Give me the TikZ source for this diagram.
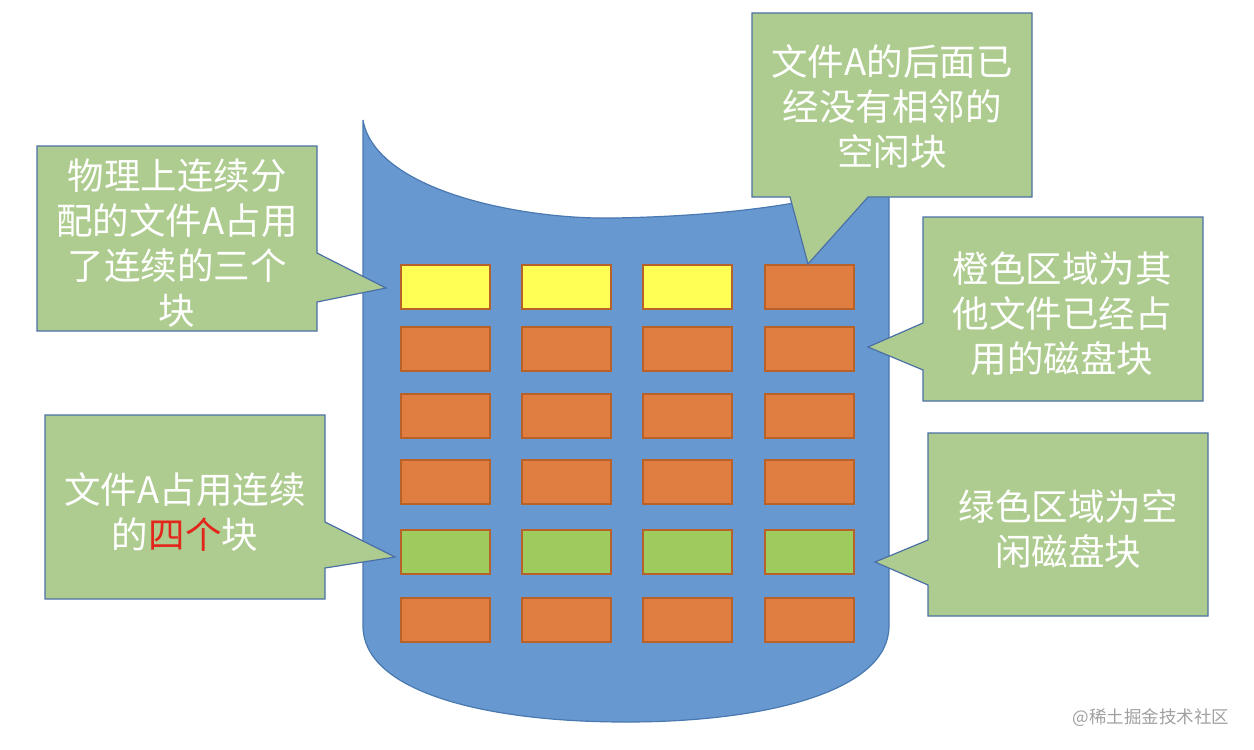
\documentclass[tikz,border=0pt]{standalone}
\usepackage{fontspec}
\newfontfamily\cjk{Noto Sans CJK SC}
\definecolor{cylfill}{HTML}{6799D0}
\definecolor{cyledge}{HTML}{4A78B0}
\definecolor{yel}{HTML}{FFFF55}
\definecolor{org}{HTML}{E07E42}
\definecolor{grn}{HTML}{9DCB5E}
\definecolor{blkedge}{HTML}{B8622A}
\definecolor{callfill}{HTML}{AECC8F}
\definecolor{calledge}{HTML}{4C70A6}
\definecolor{redtxt}{HTML}{E3261C}
\definecolor{wmark}{HTML}{A0A0A0}
\tikzset{
  blockbox/.style={draw=blkedge, line width=1.6pt, minimum width=89pt, minimum height=44pt, inner sep=0pt, anchor=north west},
  callout/.style={fill=callfill, draw=calledge, line width=1.2pt, line join=miter},
  calltext/.style={text=white, align=center, font=\cjk\fontsize{36.5}{45}\selectfont, inner sep=0pt}
}
\begin{document}
\begin{tikzpicture}[x=1pt,y=-1pt]
\useasboundingbox (0,0) rectangle (1254,750);
% disk body
\path[fill=cylfill, draw=cyledge, line width=1.2pt]
  (363,120) .. controls (375,190) and (520,220) .. (615,218)
  .. controls (720,216) and (820,205) .. (889,178)
  -- (889,626) .. controls (889,690) and (770,722) .. (626,722)
  .. controls (480,722) and (363,690) .. (363,626) -- cycle;
% blocks
\foreach \c/\x in {1/400,2/521,3/642,4/764}{
  \foreach \r/\y in {1/264,2/326,3/393,4/459,5/529,6/597}{
    \node[blockbox, fill=org] (b\r\c) at (\x,\y) {};
  }
}
\node[blockbox, fill=yel] (b11) at (400,264) {};
\node[blockbox, fill=yel] (b12) at (521,264) {};
\node[blockbox, fill=yel] (b13) at (642,264) {};
\foreach \c/\x in {1/400,2/521,3/642,4/764}{
  \node[blockbox, fill=grn] (b5\c) at (\x,529) {};
}
% callout 1 (left top)
\path[callout] (37,146) -- (317,146) -- (317,253) -- (386,288) -- (317,302) -- (317,331) -- (37,331) -- cycle;
\node[calltext] (t1) at (177,243) {物理上连续分\\配的文件A占用\\了连续的三个\\块};
% callout 2 (top right)
\path[callout] (752,13) -- (1032,13) -- (1032,197) -- (868,197) -- (808,264) -- (790,197) -- (752,197) -- cycle;
\node[calltext] (t2) at (892,107) {文件A的后面已\\经没有相邻的\\空闲块};
% callout 3 (right middle)
\path[callout] (923,217) -- (1203,217) -- (1203,401) -- (923,401) -- (923,370) -- (868,347) -- (923,323) -- cycle;
\node[calltext] (t3) at (1062,314) {橙色区域为其\\他文件已经占\\用的磁盘块};
% callout 4 (left bottom)
\path[callout] (45,415) -- (325,415) -- (325,522) -- (395,557) -- (325,568) -- (325,599) -- (45,599) -- cycle;
\node[calltext] (t4) at (185,512) {文件A占用连续\\的{\color{redtxt}四个}块};
% callout 5 (right bottom)
\path[callout] (928,433) -- (1208,433) -- (1208,616) -- (928,616) -- (928,585) -- (875,562) -- (928,540) -- cycle;
\node[calltext] (t5) at (1068,529) {绿色区域为空\\闲磁盘块};
% watermark
\node[text=wmark, font=\cjk\fontsize{17.5}{19}\selectfont, inner sep=0pt] (wm) at (1151,718) {@稀土掘金技术社区};
\end{tikzpicture}
\end{document}
